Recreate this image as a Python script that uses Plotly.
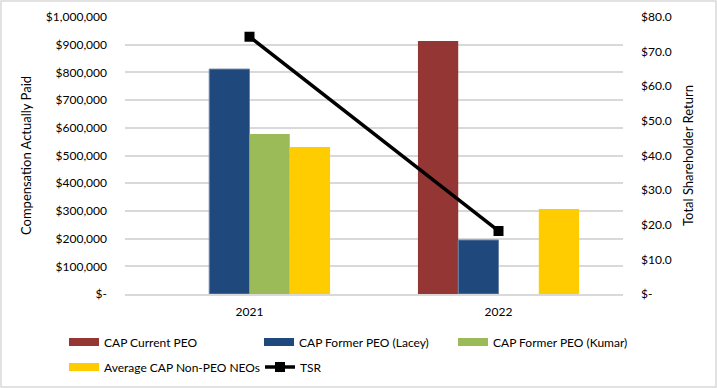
import plotly.graph_objects as go

years = ["2021", "2022"]
cap_current_peo = [None, 913000]
cap_former_lacey = [812000, 195000]
cap_former_kumar = [578000, None]
avg_cap_non_peo = [531000, 307000]
tsr = [74.3, 18.2]

left_ticks = [0, 100000, 200000, 300000, 400000, 500000, 600000, 700000, 800000, 900000, 1000000]
left_labels = ["$-"] + ["${:,.0f}".format(v) for v in left_ticks[1:]]
right_ticks = [0, 10, 20, 30, 40, 50, 60, 70, 80]
right_labels = ["$-"] + ["${:.1f}".format(v) for v in right_ticks[1:]]

FONT = "Lato"
W, H = 717, 388
ml, mr, mt, mb = 125, 94, 17, 94
pw, ph = W - ml - mr, H - mt - mb

COLORS = ["#943634", "#1F497D", "#9BBB59", "#FFCC00"]
NAMES = ["CAP Current PEO", "CAP Former PEO (Lacey)", "CAP Former PEO (Kumar)",
         "Average CAP Non-PEO NEOs"]

# legend column (text left px) and row (center px)
col_text = [104, 299, 493]
row_y = [342, 367]
TXT_OFF = 40


def leg(col, row, text_x=None):
    tx = col_text[col] if text_x is None else text_x
    return dict(xref="container", yref="container",
                x=(tx - TXT_OFF) / W, xanchor="left",
                y=1 - row_y[row] / H, yanchor="middle",
                font=dict(family=FONT, size=12, color="black"),
                bgcolor="rgba(0,0,0,0)", orientation="h", itemwidth=30)


fig = go.Figure()
series = [cap_current_peo, cap_former_lacey, cap_former_kumar, avg_cap_non_peo]
legend_ids = ["legend", "legend2", "legend3", "legend4"]
for vals, name, color, lid in zip(series, NAMES, COLORS, legend_ids):
    line = dict(color="#6C83A8", width=1) if name.endswith("(Lacey)") else dict(width=0)
    fig.add_bar(x=years, y=vals, name=name, marker_color=color, marker_line=line,
                showlegend=False)
    # legend proxy (wide flat swatch like the original)
    fig.add_scatter(x=[None], y=[None], mode="lines", name=name,
                    line=dict(color=color, width=8), legend=lid, hoverinfo="skip")

fig.add_scatter(x=years, y=tsr, name="TSR", yaxis="y2", mode="lines+markers",
                line=dict(color="black", width=3.5),
                marker=dict(symbol="square", size=10, color="black"), legend="legend5")

fig.update_layout(
    width=W, height=H,
    margin=dict(l=ml, r=mr, t=mt, b=mb, autoexpand=False),
    paper_bgcolor="white", plot_bgcolor="white",
    font=dict(family=FONT, size=12, color="black"),
    barmode="group", bargap=0.353, bargroupgap=0,
    showlegend=True,
    legend=leg(0, 0), legend2=leg(1, 0), legend3=leg(2, 0),
    legend4=leg(0, 1), legend5=leg(1, 1, text_x=300),
    xaxis=dict(showgrid=False, showline=True, linecolor="#D9D9D9", linewidth=1.5,
               ticks="", tickfont=dict(size=12), automargin=False, ticklabelstandoff=6),
    yaxis=dict(range=[0, 1000000], tickvals=left_ticks, ticktext=left_labels,
               showgrid=True, gridcolor="#D9D9D9", gridwidth=1.5, zeroline=False,
               title=dict(text="Compensation Actually Paid", font=dict(size=13), standoff=11),
               tickfont=dict(size=12), ticks="", automargin=False, ticklabelstandoff=17),
    yaxis2=dict(range=[0, 80], tickvals=right_ticks, ticktext=right_labels,
                overlaying="y", side="right", showgrid=False, zeroline=False,
                title=dict(text="Total Shareholder Return", font=dict(size=13), standoff=13),
                tickfont=dict(size=12), ticks="", automargin=False, ticklabelstandoff=17),
)
fig.add_shape(type="rect", xref="paper", yref="paper",
              x0=(-ml + 1) / pw, x1=(W - ml - 1) / pw,
              y0=-(mb - 1) / ph, y1=(H - mb - 1) / ph,
              line=dict(color="#D9D9D9", width=1.5), layer="below")
fig.write_html("out.html", config={"displayModeBar": False},
               post_script="document.body.style.margin='0';document.body.style.overflow='hidden';")
